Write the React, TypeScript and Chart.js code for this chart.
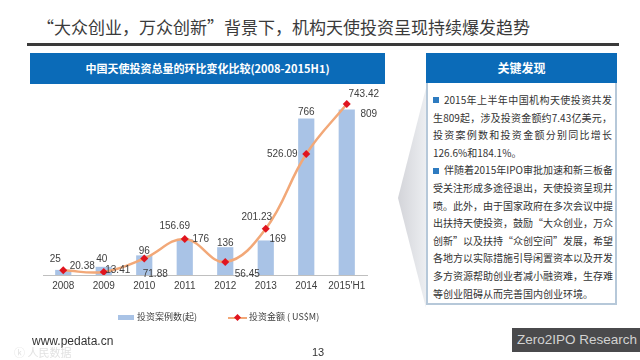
import React, { useEffect, useRef } from "react";
import { Chart, registerables } from "chart.js";

Chart.register(...registerables);

const categories = ["2008", "2009", "2010", "2011", "2012", "2013", "2014", "2015'H1"];
const caseCounts = [25, 40, 96, 176, 136, 169, 766, 809];
const amounts = [20.38, 13.41, 71.88, 156.69, 56.45, 201.23, 526.09, 743.42];
const barLegend = "投资案例数(起)";
const lineLegend = "投资金额 ( US$M)";

const barLabelOffsets = [[-8, -11], [-2, -8], [0, -4], [16, 0], [0, -4], [12, -1], [0, -6], [22, 5]];
const lineLabelOffsets = [[19, -4], [14, -2], [11, 16], [-10, -13], [22, 12], [-9, -11], [-24, 0], [17, -10]];

const BAR_COLOR = "#A9C3E6";
const LINE_COLOR = "#F2A878";
const POINT_COLOR = "#E0141E";

const para1 = [
  "2015年上半年中国机构天使投资共发",
  "生809起，涉及投资金额约7.43亿美元，",
  "投资案例数和投资金额分别同比增长",
  "126.6%和184.1%。",
];
const para2 = [
  "伴随着2015年IPO审批加速和新三板备",
  "受关注形成多途径退出，天使投资呈现井",
  "喷。此外，由于国家政府在多次会议中提",
  "出扶持天使投资，鼓励“大众创业，万众",
  "创新”以及扶持“众创空间”发展，希望",
  "各地方以实际措施引导闲置资本以及开发",
  "多方资源帮助创业者减小融资难，生存难",
  "等创业阻碍从而完善国内创业环境。",
];

const labelPlugin = {
  id: "valueLabels",
  afterDatasetsDraw(chart: any) {
    const ctx = chart.ctx;
    ctx.save();
    ctx.font = '10px "Liberation Sans", Arial, sans-serif';
    ctx.fillStyle = "#404040";
    ctx.textAlign = "center";
    ctx.textBaseline = "middle";
    chart.getDatasetMeta(0).data.forEach((el: any, i: number) => {
      const [dx, dy] = barLabelOffsets[i];
      ctx.fillText(String(caseCounts[i]), el.x + dx, el.y + dy);
    });
    chart.getDatasetMeta(1).data.forEach((el: any, i: number) => {
      const [dx, dy] = lineLabelOffsets[i];
      ctx.fillText(amounts[i].toFixed(2), el.x + dx, el.y + dy);
    });
    ctx.restore();
  },
};

function ChartBox() {
  const ref = useRef<HTMLCanvasElement>(null);
  useEffect(() => {
    if (!ref.current) return;
    const chart = new Chart(ref.current, {
      type: "bar",
      data: {
        labels: categories,
        datasets: [
          {
            type: "bar",
            label: barLegend,
            data: caseCounts,
            backgroundColor: BAR_COLOR,
            yAxisID: "y",
            barPercentage: 0.4,
            categoryPercentage: 1,
            order: 2,
          },
          {
            type: "line",
            label: lineLegend,
            data: amounts,
            borderColor: LINE_COLOR,
            borderWidth: 2.5,
            tension: 0.4,
            pointStyle: "rectRot",
            pointRadius: 4,
            pointBackgroundColor: POINT_COLOR,
            pointBorderColor: POINT_COLOR,
            pointBorderWidth: 0,
            yAxisID: "y1",
            order: 1,
          } as any,
        ],
      },
      options: {
        animation: false,
        responsive: false,
        maintainAspectRatio: false,
        layout: { padding: { top: 5, left: 13, right: 18, bottom: 19 } },
        plugins: { legend: { display: false }, tooltip: { enabled: false } },
        scales: {
          x: {
            grid: { display: false, drawTicks: false },
            border: { display: true, color: "#BFBFBF", width: 1 },
            ticks: {
              color: "#404040",
              padding: 5,
              maxRotation: 0,
              autoSkip: false,
              font: { size: 10, family: '"Liberation Sans", Arial, sans-serif' },
            },
          },
          y: { display: false, min: 0, max: 900 },
          y1: { display: false, min: 0, max: 800, position: "right" },
        },
      },
      plugins: [labelPlugin],
    });
    return () => chart.destroy();
  }, []);
  return <canvas ref={ref} width={355} height={230} style={{ width: 355, height: 230, display: "block" }} />;
}

const cjk = '"Noto Sans CJK SC", "Noto Sans", sans-serif';

function Line({ text, last, bullet }: { text: string; last?: boolean; bullet?: boolean }) {
  return (
    <div
      style={{
        height: 17.6,
        lineHeight: "17.6px",
        whiteSpace: "nowrap",
        textAlign: "justify",
        textAlignLast: last ? "left" : "justify",
      } as any}
    >
      {bullet && (
        <span
          style={{
            display: "inline-block",
            width: 6,
            height: 6,
            background: "#2E7BC0",
            marginRight: 5,
            verticalAlign: "middle",
            position: "relative",
            top: -1,
          }}
        />
      )}
      {text}
    </div>
  );
}

export default function App() {
  return (
    <div
      style={{
        position: "fixed",
        left: 0,
        top: 0,
        width: 640,
        height: 360,
        background: "#ffffff",
        overflow: "hidden",
        fontFamily: cjk,
      }}
    >
      <div style={{ position: "absolute", left: 37, top: 16, fontSize: 17, color: "#3a3a3a", whiteSpace: "nowrap", lineHeight: "22px" }}>
        “大众创业，万众创新”背景下，机构天使投资呈现持续爆发趋势
      </div>
      <div style={{ position: "absolute", left: 27, top: 43, width: 592, height: 3, background: "#3a3a3a" }} />

      <div
        style={{
          position: "absolute",
          left: 30,
          top: 53,
          width: 355,
          height: 31,
          background: "#0B6BB8",
          color: "#fff",
          fontSize: 11,
          fontWeight: 700,
          textAlign: "center",
          lineHeight: "31px",
          whiteSpace: "nowrap",
        }}
      >
        中国天使投资总量的环比变化比较(2008-2015H1)
      </div>

      <div style={{ position: "absolute", left: 30, top: 86 }}>
        <ChartBox />
      </div>

      <div style={{ position: "absolute", left: 118, top: 315, width: 16, height: 5, background: BAR_COLOR }} />
      <div style={{ position: "absolute", left: 137, top: 311, fontSize: 9, lineHeight: "12px", color: "#404040", whiteSpace: "nowrap" }}>
        {barLegend}
      </div>
      <div style={{ position: "absolute", left: 228, top: 316.5, width: 19, height: 2, background: LINE_COLOR }} />
      <div style={{ position: "absolute", left: 235, top: 314.5, width: 5, height: 5, background: POINT_COLOR, transform: "rotate(45deg)" }} />
      <div style={{ position: "absolute", left: 249, top: 311, fontSize: 9, lineHeight: "12px", color: "#404040", whiteSpace: "nowrap" }}>
        {lineLegend}
      </div>

      <div
        style={{
          position: "absolute",
          left: 398,
          top: 88,
          width: 28,
          height: 220,
          background: "linear-gradient(to right, #d3d4d9, #eceef1)",
          clipPath: "polygon(100% 0, 0 50%, 100% 100%)",
        }}
      />

      <div
        style={{
          position: "absolute",
          left: 426,
          top: 53,
          width: 191,
          height: 30,
          background: "#0B6BB8",
          color: "#fff",
          fontSize: 12,
          fontWeight: 700,
          textAlign: "center",
          lineHeight: "30px",
        }}
      >
        关键发现
      </div>
      <div
        style={{
          position: "absolute",
          left: 426,
          top: 83,
          width: 191,
          height: 222,
          boxSizing: "border-box",
          border: "2px solid #B6C8D9",
          borderTop: "none",
          background: "#fff",
        }}
      />
      <div style={{ position: "absolute", left: 433, top: 91, width: 179, fontSize: 10, color: "#333" }}>
        {para1.map((t, i) => (
          <Line key={"a" + i} text={t} bullet={i === 0} last={i === para1.length - 1} />
        ))}
        {para2.map((t, i) => (
          <Line key={"b" + i} text={t} bullet={i === 0} last={i === para2.length - 1} />
        ))}
      </div>

      <div style={{ position: "absolute", left: 32, top: 334, fontSize: 12, color: "#333", fontFamily: '"Liberation Sans", Arial, sans-serif', lineHeight: "15px" }}>
        www.pedata.cn
      </div>
      <div style={{ position: "absolute", left: 14, top: 345, fontSize: 11, color: "#e2e2e2", lineHeight: "14px", whiteSpace: "nowrap" }}>
        ⓚ 人民数据
      </div>
      <div style={{ position: "absolute", left: 312, top: 345, fontSize: 11, color: "#333", fontFamily: '"Liberation Sans", Arial, sans-serif', lineHeight: "14px" }}>
        13
      </div>
      <div
        style={{
          position: "absolute",
          left: 512,
          top: 328,
          width: 128,
          height: 24,
          background: "#4a4a4c",
          color: "#d2d2d2",
          fontSize: 13.5,
          lineHeight: "24px",
          paddingLeft: 5,
          boxSizing: "border-box",
          fontFamily: '"Liberation Sans", Arial, sans-serif',
          whiteSpace: "nowrap",
        }}
      >
        Zero2IPO Research
      </div>
    </div>
  );
}
